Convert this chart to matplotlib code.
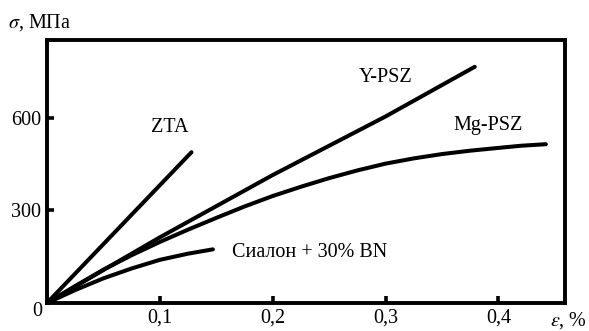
import matplotlib
matplotlib.use("Agg")
import matplotlib.pyplot as plt

plt.rcParams['font.family'] = ['Liberation Serif', 'DejaVu Serif']
plt.rcParams['mathtext.fontset'] = 'stix'

# strain, % / stress, MPa
zta_x = [0.0, 0.128]
zta_y = [0, 489]

ypsz_x = [0.0, 0.05, 0.1, 0.2, 0.3, 0.379]
ypsz_y = [0, 107, 213, 415, 605, 766]

mgpsz_x = [0.0, 0.025, 0.05, 0.075, 0.1, 0.125, 0.15, 0.175, 0.2, 0.225,
           0.25, 0.275, 0.3, 0.325, 0.35, 0.375, 0.4, 0.42, 0.442]
mgpsz_y = [0, 55, 108, 155, 198, 238, 276, 313, 347, 377,
           405, 430, 452, 469, 483, 494, 503, 510, 515]

sialon_x = [0.0, 0.025, 0.05, 0.075, 0.1, 0.125, 0.147]
sialon_y = [0, 42, 80, 112, 140, 160, 174]

xticks = [0.1, 0.2, 0.3, 0.4]
xtick_labels = ['0,1', '0,2', '0,3', '0,4']
yticks = [300, 600]
ytick_labels = ['300', '600']

fig = plt.figure(figsize=(5.89, 3.31), dpi=100)
ax = fig.add_axes([0.0798, 0.0846, 0.8795, 0.7946])

lw = 2.9
for xs, ys in [(zta_x, zta_y), (ypsz_x, ypsz_y), (mgpsz_x, mgpsz_y), (sialon_x, sialon_y)]:
    ax.plot(xs, ys, color='black', lw=lw, solid_capstyle='round',
            solid_joinstyle='round')

ax.set_xlim(0, 0.459)
ax.set_ylim(0, 853)

ax.set_xticks(xticks)
ax.set_xticklabels(xtick_labels)
ax.set_yticks(yticks)
ax.set_yticklabels(ytick_labels)
ax.tick_params(direction='in', length=5, width=2.6, labelsize=14.5, pad=4)
for s in ax.spines.values():
    s.set_linewidth(2.8)

fs = 14.5
ax.text(0.109, 568, 'ZTA', fontsize=fs, ha='center', va='center')
ax.text(0.2997, 730, 'Y-PSZ', fontsize=fs, ha='center', va='center')
ax.text(0.3905, 576, 'Mg-PSZ', fontsize=fs, ha='center', va='center')
ax.text(0.164, 165, 'Сиалон + 30% BN', fontsize=fs, ha='left', va='center')

fig.text(37 / 589, 1 - 312 / 331, '0', fontsize=fs, ha='center', va='center')
fig.text(8 / 589, 1 - 23 / 331, r'$\sigma$, МПа', fontsize=fs, ha='left', va='center')
fig.text(587 / 589, 1 - 321 / 331, r'$\varepsilon$, %', fontsize=fs, ha='right', va='center')

fig.savefig('out.png', dpi=100)
